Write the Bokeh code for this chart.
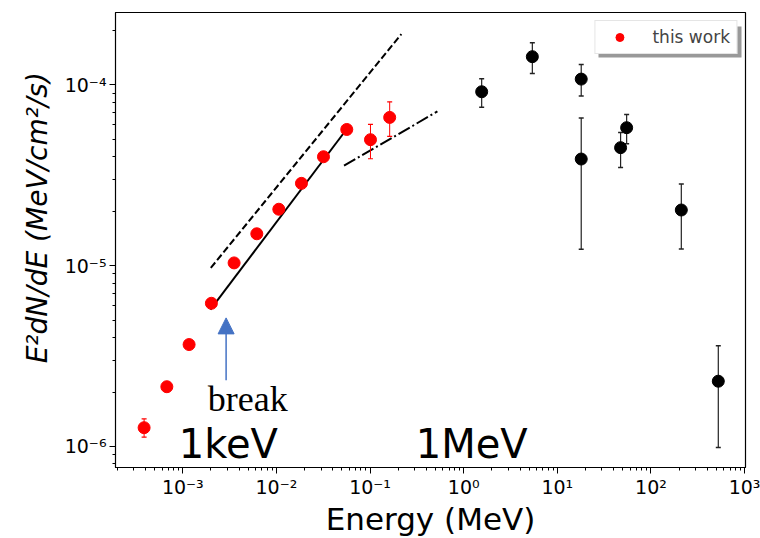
from bokeh.plotting import figure
from bokeh.models import FixedTicker, CustomJSTickFormatter, Arrow, NormalHead, Legend, LegendItem, BoxAnnotation
from bokeh.core.properties import value
from bokeh.embed import file_html
from bokeh.resources import INLINE

# ---- data: this work (red) ----
work_E = [3.86e-4, 6.75e-4, 1.167e-3, 2.02e-3, 3.53e-3, 6.17e-3, 1.06e-2, 1.85e-2, 3.18e-2, 5.64e-2, 0.101, 0.162]
work_F = [1.27e-6, 2.14e-6, 3.66e-6, 6.19e-6, 1.035e-5, 1.50e-5, 2.05e-5, 2.85e-5, 4.00e-5, 5.66e-5, 4.97e-5, 6.60e-5]
work_lo = [1.125e-6, 2.01e-6, 3.66e-6, 6.19e-6, 1.035e-5, 1.50e-5, 2.05e-5, 2.85e-5, 4.00e-5, 5.66e-5, 3.90e-5, 5.18e-5]
work_hi = [1.42e-6, 2.27e-6, 3.66e-6, 6.19e-6, 1.035e-5, 1.50e-5, 2.05e-5, 2.85e-5, 4.00e-5, 5.66e-5, 6.04e-5, 8.05e-5]

# ---- data: other measurements (black) ----
other_E = [1.556, 5.41, 18.0, 18.0, 47.4, 55.0, 211.0, 524.0]
other_F = [9.15e-5, 1.43e-4, 1.075e-4, 3.885e-5, 4.49e-5, 5.79e-5, 2.03e-5, 2.295e-6]
other_lo = [7.5e-5, 1.155e-4, 8.66e-5, 1.23e-5, 3.49e-5, 4.72e-5, 1.237e-5, 9.87e-7]
other_hi = [1.08e-4, 1.71e-4, 1.295e-4, 6.55e-5, 5.45e-5, 6.85e-5, 2.83e-5, 3.61e-6]

# ---- model lines ----
dashed_E = [1.99e-3, 0.216]
dashed_F = [9.71e-6, 1.905e-4]
solid_E = [1.97e-3, 5.36e-2]
solid_F = [5.71e-6, 5.50e-5]
dashdot_E = [5.27e-2, 0.524]
dashdot_F = [3.57e-5, 7.12e-5]

# ---- ticks ----
x_exponents = [-3, -2, -1, 0, 1, 2, 3]
y_exponents = [-6, -5, -4]

# ---- annotations ----
arrow_E = 2.9e-3
arrow_F = (2.32e-6, 5.14e-6)
break_pos = (1.85e-3, 1.84e-6)
energy_labels = ["1keV", "1MeV"]
energy_label_E = [9.06e-4, 0.307]
energy_label_F = 1.03e-6

p = figure(x_axis_type="log", y_axis_type="log",
           x_range=(1.91e-4, 1.023e3), y_range=(7.65e-7, 2.51e-4),
           frame_width=630, frame_height=455,
           min_border_left=115, min_border_right=15, min_border_top=12, min_border_bottom=71,
           output_backend="svg", toolbar_location=None)
p.background_fill_color = "white"
p.border_fill_color = "white"
p.outline_line_color = "black"
p.outline_line_width = 1.2
p.xgrid.visible = False
p.ygrid.visible = False

# ticks
def minor_list(exps_lo, exps_hi):
    out = []
    for e in range(exps_lo, exps_hi + 1):
        for m in range(2, 10):
            out.append(m * 10.0 ** e)
    return out

p.xaxis.ticker = FixedTicker(ticks=[10.0 ** e for e in x_exponents], minor_ticks=minor_list(-4, 3))
p.yaxis.ticker = FixedTicker(ticks=[10.0 ** e for e in y_exponents], minor_ticks=minor_list(-7, -4))
fmt_code = """
const sup = {'-':'\u207b','0':'\u2070','1':'\u00b9','2':'\u00b2','3':'\u00b3','4':'\u2074','5':'\u2075','6':'\u2076','7':'\u2077','8':'\u2078','9':'\u2079'};
const e = Math.round(Math.log10(tick));
return '10' + String(e).split('').map(c => sup[c]).join('');
"""
for ax in (p.xaxis, p.yaxis):
    ax.formatter = CustomJSTickFormatter(code=fmt_code)
    ax.axis_line_color = "black"
    ax.major_tick_line_color = "black"
    ax.minor_tick_line_color = "black"
    ax.major_tick_out = 6
    ax.major_tick_in = 0
    ax.minor_tick_out = 3
    ax.minor_tick_in = 0
    ax.major_label_text_font = "DejaVu Sans"
    ax.major_label_text_font_size = "19px"
    ax.major_label_text_color = "black"
    ax.axis_label_text_font = "DejaVu Sans"
    ax.axis_label_text_color = "black"

p.xaxis.major_label_standoff = 2
p.yaxis.major_label_standoff = 3
p.xaxis.axis_label = "Energy (MeV)"
p.xaxis.axis_label_standoff = 0
p.xaxis.axis_label_text_font_size = "31px"
p.xaxis.axis_label_text_font_style = "normal"
p.yaxis.axis_label = "\u00a0" * 6 + "E\u00b2dN/dE  (MeV/cm\u00b2/s)"
p.yaxis.axis_label_text_font_style = "italic"
p.yaxis.axis_label_text_font_size = "28px"
p.yaxis.axis_label_standoff = 8

# model lines
p.line(dashed_E, dashed_F, line_color="black", line_width=2, line_dash="7 3")
p.line(solid_E, solid_F, line_color="black", line_width=2)
p.line(dashdot_E, dashdot_F, line_color="black", line_width=2, line_dash="13 3 2 3")

# error bars
p.segment(x0=work_E, y0=work_lo, x1=work_E, y1=work_hi, line_color="red", line_width=1)
p.scatter(work_E + work_E, work_lo + work_hi, marker="dash", size=5, line_color="red", line_width=1.2)
p.segment(x0=other_E, y0=other_lo, x1=other_E, y1=other_hi, line_color="#222222", line_width=1.2)
p.scatter(other_E + other_E, other_lo + other_hi, marker="dash", size=5, line_color="#222222", line_width=1.5)

# points
r_work = p.scatter(work_E, work_F, marker="circle", size=12, fill_color="red", line_color="red")
p.scatter(other_E, other_F, marker="circle", size=12, fill_color="black", line_color="black")

# annotations
p.add_layout(Arrow(end=NormalHead(size=16, fill_color="#4472C4", line_color="#4472C4", line_width=1),
                   x_start=arrow_E, y_start=arrow_F[0], x_end=arrow_E, y_end=arrow_F[1],
                   line_color="#4472C4", line_width=1.5))
p.text(x=[break_pos[0]], y=[break_pos[1]], text=["break"], text_font=value("Liberation Serif"),
       text_font_size="36px", text_color="black", text_baseline="alphabetic", text_align="left")
p.text(x=energy_label_E, y=[energy_label_F] * 2, text=energy_labels, text_font=value("DejaVu Sans"),
       text_font_size="40px", text_color="black", text_baseline="alphabetic", text_align="left")

# legend shadow (screen units relative to the frame's bottom-left corner)
p.add_layout(BoxAnnotation(left=483, right=626, top=441, bottom=410,
                           left_units="screen", right_units="screen", top_units="screen", bottom_units="screen",
                           fill_color="#555555", fill_alpha=0.6, line_color=None, level="overlay"))

legend = Legend(items=[LegendItem(label="this work", renderers=[r_work])], location="top_right")
legend.margin = 8
legend.padding = 6
legend.glyph_width = 36
legend.label_standoff = 15
legend.label_text_font = "DejaVu Sans"
legend.label_text_font_size = "17px"
legend.border_line_color = "#cccccc"
legend.border_line_width = 1
legend.background_fill_alpha = 1
legend.level = "overlay"
p.add_layout(legend)

open("out.html", "w").write(file_html(p, INLINE))
